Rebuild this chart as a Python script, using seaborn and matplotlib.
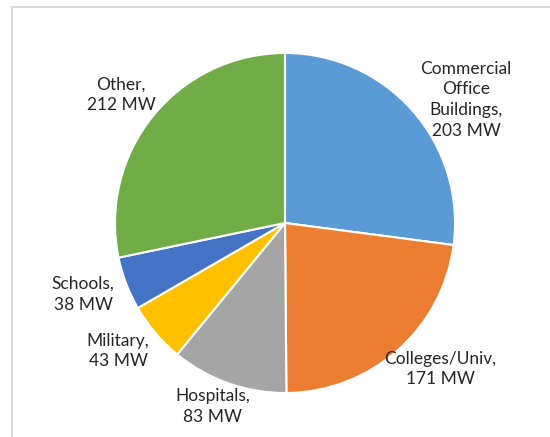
import matplotlib
matplotlib.use("Agg")
import matplotlib.pyplot as plt
from matplotlib.lines import Line2D
import seaborn as sns

# Installed capacity by facility type
categories = ["Commercial\nOffice\nBuildings", "Colleges/Univ", "Hospitals",
              "Military", "Schools", "Other"]
capacity_mw = [203, 171, 83, 43, 38, 212]
colors = ["#5B9BD5", "#ED7D31", "#A5A5A5", "#FFC000", "#4472C4", "#70AD47"]

# label anchor points (in units of the pie radius)
label_pos = [(1.065, 0.724), (0.912, -0.859), (-0.424, -1.082),
             (-0.982, -0.753), (-1.188, -0.418), (-0.965, 0.753)]

sns.set_theme(style="white")
plt.rcParams["font.family"] = ["Lato", "DejaVu Sans"]

fig = plt.figure(figsize=(5.5, 4.37), dpi=100)
ax = fig.add_axes([0, 0, 1, 1])
ax.pie(capacity_mw, colors=colors, startangle=90, counterclock=False,
       radius=1.0, wedgeprops=dict(edgecolor="white", linewidth=1.5))
ax.set_xlim(-285 / 170, 265 / 170)
ax.set_ylim(-214 / 170, 223 / 170)
ax.set_aspect("equal")
ax.axis("off")

for name, val, (x, y) in zip(categories, capacity_mw, label_pos):
    ax.text(x, y, f"{name},\n{val} MW", ha="center", va="center",
            fontsize=12.5, color="#262626", linespacing=1.38)

# chart-area frame
frame = "#D9D9D9"
fig.add_artist(Line2D([11.5 / 550, 11.5 / 550], [0, 1 - 7 / 437],
                      transform=fig.transFigure, color=frame, lw=1.5))
fig.add_artist(Line2D([11.5 / 550, 1], [1 - 7 / 437, 1 - 7 / 437],
                      transform=fig.transFigure, color=frame, lw=1.5))

fig.savefig("out.png", dpi=100)
